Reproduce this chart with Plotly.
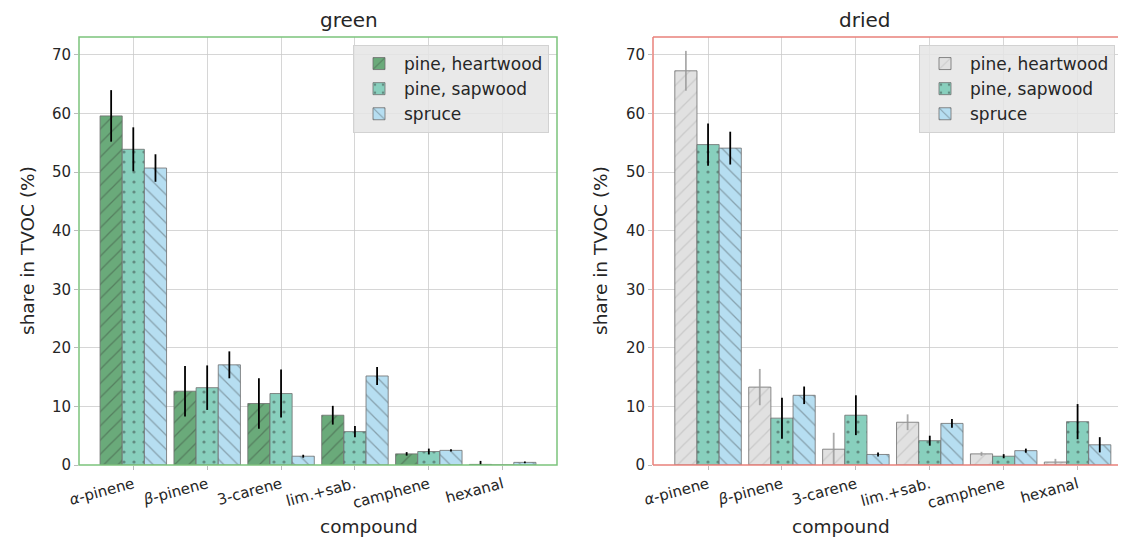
import plotly.graph_objects as go

compounds = ["<i>α</i>-pinene", "<i>β</i>-pinene", "3-carene", "lim.+sab.", "camphene", "hexanal"]
series = ["pine, heartwood", "pine, sapwood", "spruce"]

# green samples
green_heart = [59.6, 12.6, 10.5, 8.5, 1.9, 0.1]
green_heart_err = [4.4, 4.3, 4.3, 1.6, 0.3, 0.6]
green_sap = [53.9, 13.2, 12.2, 5.7, 2.3, 0.0]
green_sap_err = [3.75, 3.8, 4.1, 0.95, 0.5, 0.0]
green_spruce = [50.7, 17.1, 1.5, 15.2, 2.5, 0.45]
green_spruce_err = [2.35, 2.3, 0.25, 1.55, 0.2, 0.15]

# dried samples
dried_heart = [67.3, 13.3, 2.7, 7.3, 1.9, 0.5]
dried_heart_err = [3.4, 3.1, 2.8, 1.35, 0.35, 0.55]
dried_sap = [54.7, 8.0, 8.5, 4.15, 1.5, 7.4]
dried_sap_err = [3.6, 3.5, 3.4, 0.85, 0.35, 3.0]
dried_spruce = [54.1, 11.9, 1.8, 7.1, 2.45, 3.45]
dried_spruce_err = [2.8, 1.5, 0.35, 0.75, 0.35, 1.3]

FONT = "DejaVu Sans"
TXT = "#262626"
EDGE = "rgba(110,110,110,0.8)"
HATCH = "rgba(45,45,45,0.7)"
DOTS = "rgba(40,40,40,0.8)"

styles = {
    "green": [("rgba(106,170,122,1)", "/", "black"),
              ("rgba(136,207,189,1)", ".", "black"),
              ("rgba(182,222,241,1)", "\\", "black")],
    "dried": [("rgba(225,225,225,1)", "/", "rgba(150,150,150,0.8)"),
              ("rgba(136,207,189,1)", ".", "black"),
              ("rgba(182,222,241,1)", "\\", "black")],
}

fig = go.Figure()

def add_panel(vals, errs, style, xa, ya, legend):
    for i, (name, v, e) in enumerate(zip(series, vals, errs)):
        color, shape, ecol = style[i]
        if shape == ".":
            pat = dict(shape=shape, fgcolor=DOTS, bgcolor=color, fillmode="overlay",
                       size=10, solidity=0.08)
        else:
            hatch = HATCH if not (legend == "legend2" and i == 0) else "rgba(165,165,165,0.75)"
            pat = dict(shape=shape, fgcolor=hatch, bgcolor=color, fillmode="overlay",
                       size=10, solidity=0.13)
        fig.add_trace(go.Bar(
            x=compounds, y=v, name=name, xaxis=xa, yaxis=ya, legend=legend,
            offsetgroup=str(i),
            marker=dict(color=color, line=dict(color=EDGE, width=1), pattern=pat),
            error_y=dict(type="data", array=e, visible=True, color=ecol,
                         thickness=1.8, width=0),
        ))

add_panel([green_heart, green_sap, green_spruce],
          [green_heart_err, green_sap_err, green_spruce_err],
          styles["green"], "x", "y", "legend")
add_panel([dried_heart, dried_sap, dried_spruce],
          [dried_heart_err, dried_sap_err, dried_spruce_err],
          styles["dried"], "x2", "y2", "legend2")

# page body has an 8px margin; work in figure coordinates
W, H = 1118, 530
L1, R1 = 71, 549
L2, R2 = 645, 1118
T, B = 29, 457

axis_common = dict(showgrid=True, gridcolor="rgba(200,200,200,0.75)", gridwidth=1,
                   ticks="outside", ticklen=4, tickcolor="#bbbbbb",
                   tickfont=dict(family=FONT, size=15, color=TXT), zeroline=False,
                   showline=False, automargin=False)

legend_common = dict(xref="paper", yref="paper", xanchor="right", yanchor="top",
                     bgcolor="rgba(229,229,229,0.85)", bordercolor="rgba(210,210,210,1)",
                     borderwidth=1, font=dict(family=FONT, size=17, color=TXT),
                     itemwidth=40, tracegroupgap=0)

def px_x(p):
    return p / W

def px_y(p):
    return 1 - (p - T) / (B - T)

title_font = dict(family=FONT, size=20, color=TXT)
axis_title_font = dict(family=FONT, size=18.5, color=TXT)

annotations = [
    dict(text="green", x=px_x((L1 + R1) / 2), y=1, xref="paper", yref="paper",
         yanchor="bottom", yshift=3, showarrow=False, font=title_font),
    dict(text="dried", x=px_x(884), y=1, xref="paper", yref="paper",
         yanchor="bottom", yshift=3, showarrow=False, font=title_font),
    dict(text="compound", x=px_x((L1 + R1) / 2), y=px_y(518), xref="paper", yref="paper",
         yanchor="middle", showarrow=False, font=axis_title_font),
    dict(text="compound", x=px_x(884), y=px_y(518), xref="paper", yref="paper",
         yanchor="middle", showarrow=False, font=axis_title_font),
    dict(text="share in TVOC (%)", x=px_x(19), y=0.5, xref="paper", yref="paper",
         textangle=-90, xanchor="center", yanchor="middle", showarrow=False, font=axis_title_font),
    dict(text="share in TVOC (%)", x=px_x(592), y=0.5, xref="paper", yref="paper",
         textangle=-90, xanchor="center", yanchor="middle", showarrow=False, font=axis_title_font),
]

fig.update_layout(
    width=W, height=H, plot_bgcolor="white", paper_bgcolor="white",
    margin=dict(l=0, r=0, t=T, b=H - B, autoexpand=False),
    bargap=0.1, bargroupgap=0, barmode="group",
    font=dict(family=FONT, color=TXT),
    xaxis=dict(domain=[L1 / W, R1 / W], anchor="y", type="category",
               range=[-0.735, 5.735], tickangle=-15, **axis_common),
    yaxis=dict(domain=[0, 1], anchor="x", range=[0, 73.07], dtick=10, **axis_common),
    xaxis2=dict(domain=[L2 / W, R2 / W], anchor="y2", type="category",
                range=[-0.745, 5.655], tickangle=-15, **axis_common),
    yaxis2=dict(domain=[0, 1], anchor="x2", range=[0, 73.07], dtick=10, **axis_common),
    legend=dict(x=px_x(541), y=px_y(37), **legend_common),
    legend2=dict(x=px_x(1107), y=px_y(37), **legend_common),
    annotations=annotations,
    shapes=[
        dict(type="rect", xref="x domain", yref="y domain", x0=0, x1=1, y0=0, y1=1,
             line=dict(color="#7cc47c", width=1.5), layer="above"),
        dict(type="line", xref="x2 domain", yref="y2 domain", x0=0, x1=1, y0=1, y1=1,
             line=dict(color="#e8807a", width=1.5), layer="above"),
        dict(type="line", xref="x2 domain", yref="y2 domain", x0=0, x1=0, y0=0, y1=1,
             line=dict(color="#e8807a", width=1.5), layer="above"),
        dict(type="line", xref="x2 domain", yref="y2 domain", x0=0, x1=1, y0=0, y1=0,
             line=dict(color="#e8807a", width=1.5), layer="above"),
    ],
)

fig.write_html("out.html")
